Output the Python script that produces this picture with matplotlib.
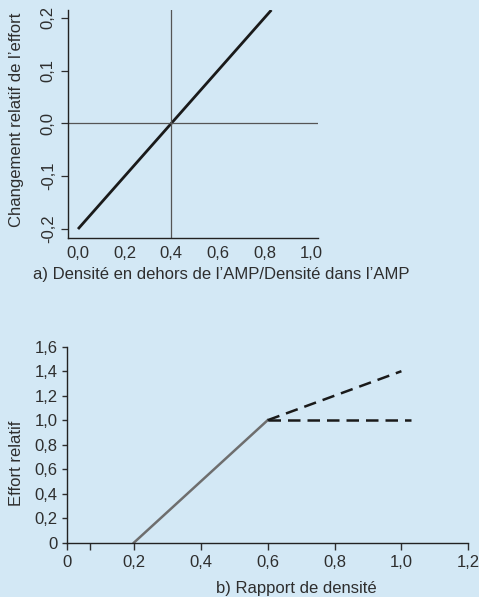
import numpy as np
import matplotlib
matplotlib.use("Agg")
import matplotlib.pyplot as plt

plt.rcParams["font.family"] = ["Liberation Sans", "DejaVu Sans"]
plt.rcParams["font.size"] = 12

bg = "#d3e8f5"

# panel a
a_x = [0.0, 0.83]
a_y = [-0.2, 0.215]
a_xticks = [0.0, 0.2, 0.4, 0.6, 0.8, 1.0]
a_yticks = [-0.2, -0.1, 0.0, 0.1, 0.2]
a_vline = 0.4
a_hline = 0.0

# panel b
b_x_solid = [0.2, 0.6]
b_y_solid = [0.0, 1.0]
b_x_up = [0.6, 1.0]
b_y_up = [1.0, 1.4]
b_x_flat = [0.6, 1.03]
b_y_flat = [1.0, 1.0]
b_xticks = [0, 0.2, 0.4, 0.6, 0.8, 1.0, 1.2]
b_xlabels = ["0", "0,2", "0,4", "0,6", "0,8", "1,0", "1,2"]
b_yticks = [0, 0.2, 0.4, 0.6, 0.8, 1.0, 1.2, 1.4, 1.6]
b_ylabels = ["0", "0,2", "0,4", "0,6", "0,8", "1,0", "1,2", "1,4", "1,6"]

W, H = 479, 597
fig = plt.figure(figsize=(W / 100, H / 100), dpi=100, facecolor=bg)


def box(l, t, r, b):
    return [l / W, 1 - b / H, (r - l) / W, (b - t) / H]


tc = "#2e2e2e"

# ---- top chart ----
ax1 = fig.add_axes(box(68, 10, 318, 238))
ax1.set_facecolor(bg)
ax1.plot(a_x, a_y, color="#1a1a1a", lw=2.0, solid_capstyle="butt")
ax1.axvline(a_vline, color="#555555", lw=0.9)
ax1.axhline(a_hline, color="#555555", lw=0.9)
ax1.set_xlim(-0.043, 1.03)
ax1.set_ylim(-0.217, 0.215)
ax1.set_xticks(a_xticks)
ax1.set_xticklabels([f"{v:.1f}".replace(".", ",") for v in a_xticks])
ax1.set_yticks(a_yticks)
ax1.set_yticklabels([f"{v:.1f}".replace(".", ",") for v in a_yticks],
                    rotation=90, va="center")
ax1.tick_params(axis="x", length=0, pad=6, labelsize=12, colors=tc)
ax1.tick_params(axis="y", length=4.8, width=0.9, pad=4, labelsize=12, colors=tc)
for s in ["top", "right"]:
    ax1.spines[s].set_visible(False)
for s in ["left", "bottom"]:
    ax1.spines[s].set_color("#222222")
    ax1.spines[s].set_linewidth(1.0)
fig.text(17 / W, 1 - 120 / H, "Changement relatif de l\u2019effort", rotation=90,
         ha="center", va="center", fontsize=12, color=tc)
fig.text(221 / W, 1 - 274 / H, "a) Densit\u00e9 en dehors de l\u2019AMP/Densit\u00e9 dans l\u2019AMP",
         ha="center", va="center", fontsize=12, color=tc)

# ---- bottom chart ----
ax2 = fig.add_axes(box(67, 346.7, 468.3, 542.7))
ax2.set_facecolor(bg)
ax2.plot(b_x_solid, b_y_solid, color="#6e6e6e", lw=1.8)
ax2.plot(b_x_up, b_y_up, color="#1a1a1a", lw=1.8, ls=(0, (5, 2.8)))
ax2.plot(b_x_flat, b_y_flat, color="#1a1a1a", lw=1.8, ls=(0, (5, 2.8)))
ax2.set_xlim(0, 1.2)
ax2.set_ylim(0, 1.6)
ax2.set_xticks(b_xticks)
ax2.set_xticklabels(b_xlabels)
ax2.set_xticks([0.07], minor=True)
ax2.set_yticks(b_yticks)
ax2.set_yticklabels(b_ylabels)
ax2.tick_params(axis="x", which="both", length=5, width=1.0, pad=4, labelsize=12,
                colors=tc)
ax2.tick_params(axis="y", length=3.6, width=1.0, pad=3, labelsize=12, colors=tc)
for s in ["top", "right"]:
    ax2.spines[s].set_visible(False)
for s in ["left", "bottom"]:
    ax2.spines[s].set_color("#222222")
    ax2.spines[s].set_linewidth(1.0)
fig.text(17 / W, 1 - 463 / H, "Effort relatif", rotation=90,
         ha="center", va="center", fontsize=12, color=tc)
fig.text(296 / W, 1 - 588 / H, "b) Rapport de densit\u00e9",
         ha="center", va="center", fontsize=12, color=tc)

fig.savefig("out.png", dpi=100, facecolor=bg)
